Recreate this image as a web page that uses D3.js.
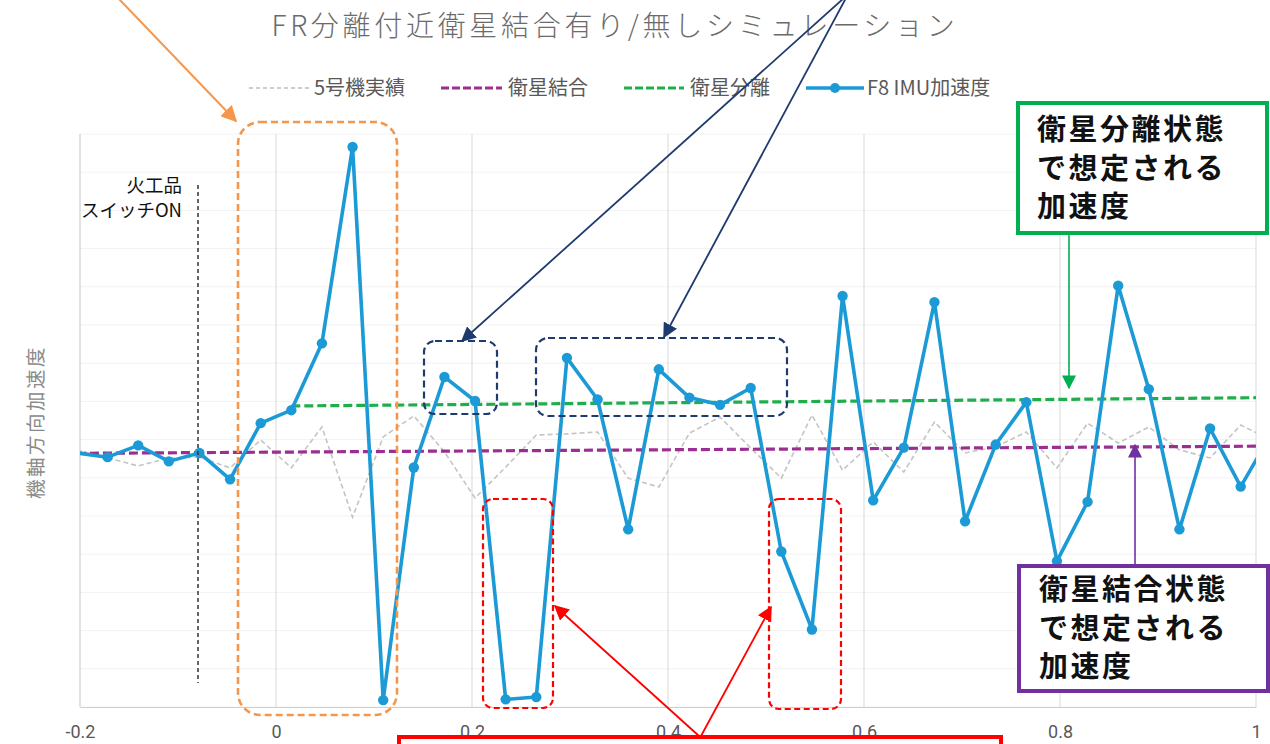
<!DOCTYPE html>
<html><head><meta charset="utf-8">
<script src="https://cdn.jsdelivr.net/npm/d3@7"></script>
<style>
body{margin:0;background:#fff;}
svg{display:block;font-family:"Noto Sans CJK JP","Noto Sans",sans-serif;}
</style></head>
<body><svg id="c" width="1270" height="744"></svg>
<script>
// ---- data ----
const times = [-0.203125,-0.171875,-0.140625,-0.109375,-0.078125,-0.046875,-0.015625,0.015625,0.046875,0.078125,
  0.109375,0.140625,0.171875,0.203125,0.234375,0.265625,0.296875,0.328125,0.359375,0.390625,
  0.421875,0.453125,0.484375,0.515625,0.546875,0.578125,0.609375,0.640625,0.671875,0.703125,
  0.734375,0.765625,0.796875,0.828125,0.859375,0.890625,0.921875,0.953125,0.984375,1.015625];
const imuAccel = [6.65,6.54,6.85,6.43,6.65,5.96,7.43,7.77,9.52,14.66,
  0.18,6.27,8.64,8.01,0.20,0.26,9.14,8.05,4.65,8.84,
  8.10,7.91,8.35,4.07,2.03,10.76,5.41,6.79,10.60,4.86,
  6.87,7.98,3.82,5.37,11.03,8.32,4.65,7.29,5.77,7.15];
const unit5Actual = [6.73,6.52,6.31,6.52,6.54,6.26,6.99,6.26,7.33,4.97,
  7.07,7.62,6.68,5.47,6.28,7.12,7.15,7.20,5.99,5.76,
  7.17,7.59,6.78,5.99,7.64,6.20,6.94,6.15,7.46,6.65,
  6.81,7.20,6.26,7.43,6.91,7.33,6.73,6.52,7.38,6.99];
const coupledTimes = [-0.203125, 1.015625];
const coupledVals = [6.64, 6.83];
const separatedTimes = [0.015625, 1.015625];
const separatedVals = [7.88, 8.10];
const xTicks = [-0.2, 0, 0.2, 0.4, 0.6, 0.8, 1];
const xTickLabels = ["-0.2","0","0.2","0.4","0.6","0.8","1"];
const yGrid = d3.range(0, 16);
const seriesNames = ["5号機実績","衛星結合","衛星分離","F8 IMU加速度"];
const titleText = "FR分離付近衛星結合有り/無しシミュレーション";
const yTitle = "機軸方向加速度";

// ---- layout ----
const svg = d3.select("#c");
const L = 80, R = 1256, T = 134, B = 707;
const x = d3.scaleLinear([-0.2, 1], [L, R]);
const y = d3.scaleLinear([0, 15], [B, T]);

const defs = svg.append("defs");
defs.append("clipPath").attr("id","plot").append("rect")
  .attr("x",L).attr("y",T-20).attr("width",R-L).attr("height",B-T+20);
function arrowMarker(id, color, size){
  defs.append("marker").attr("id",id).attr("viewBox","0 0 10 10")
    .attr("refX",9).attr("refY",5).attr("markerWidth",size).attr("markerHeight",size)
    .attr("markerUnits","userSpaceOnUse").attr("orient","auto")
    .append("path").attr("d","M0,0 L10,5 L0,10 z").attr("fill",color);
}
arrowMarker("aOrange","#f5964a",16);
arrowMarker("aNavy","#1f3b6e",15);
arrowMarker("aRed","#ff0000",15);
arrowMarker("aGreen","#00b050",14);
arrowMarker("aPurple","#7030a0",14);

// gridlines
svg.append("g").selectAll("line").data(yGrid).join("line")
  .attr("x1",L).attr("x2",R).attr("y1",d=>y(d)).attr("y2",d=>y(d))
  .attr("stroke","#f2f2f2").attr("stroke-width",1);
svg.append("g").selectAll("line").data(xTicks.slice(1)).join("line")
  .attr("x1",d=>x(d)).attr("x2",d=>x(d)).attr("y1",T).attr("y2",B)
  .attr("stroke","#d9d9d9").attr("stroke-width",1);
// axes lines
svg.append("line").attr("x1",L).attr("x2",L).attr("y1",T).attr("y2",B).attr("stroke","#cfcfcf").attr("stroke-width",1.2);
const xAxis = d3.axisBottom(x).tickValues(xTicks).tickFormat((d,i)=>xTickLabels[i]).tickSize(0).tickPadding(18);
const gx = svg.append("g").attr("transform",`translate(0,${B})`).call(xAxis);
gx.select(".domain").attr("stroke","#cfcfcf").attr("stroke-width",1.2);
gx.selectAll("text").attr("font-size",18).attr("fill","#595959").attr("font-family","Roboto,'Noto Sans',sans-serif");

// title
svg.append("text").attr("x",615).attr("y",36).attr("text-anchor","middle")
  .attr("font-size",28).attr("font-weight",300).attr("fill","#6b6b6b").attr("letter-spacing",3.7).text(titleText);
// y title
svg.append("text").attr("transform","translate(43,422) rotate(-90)").attr("text-anchor","middle")
  .attr("font-size",19.5).attr("fill","#8a8a8a").attr("letter-spacing",2.5).text(yTitle);

// series
const plot = svg.append("g").attr("clip-path","url(#plot)");
const line = d3.line().x(d=>x(d[0])).y(d=>y(d[1]));
plot.append("path").datum(times.map((t,i)=>[t,unit5Actual[i]])).attr("d",line)
  .attr("fill","none").attr("stroke","#c4c4c4").attr("stroke-width",1.6).attr("stroke-dasharray","5,3");
plot.append("path").datum(coupledTimes.map((t,i)=>[t,coupledVals[i]])).attr("d",line)
  .attr("fill","none").attr("stroke","#9c2d91").attr("stroke-width",3.2).attr("stroke-dasharray","9,4");
plot.append("path").datum(separatedTimes.map((t,i)=>[t,separatedVals[i]])).attr("d",line)
  .attr("fill","none").attr("stroke","#1fae4b").attr("stroke-width",3.2).attr("stroke-dasharray","9,4");
const imuData = times.map((t,i)=>[t,imuAccel[i]]);
plot.append("path").datum(imuData).attr("d",line)
  .attr("fill","none").attr("stroke","#1b9ad6").attr("stroke-width",3.6).attr("stroke-linejoin","round");
plot.append("g").selectAll("circle").data(imuData.filter(d=>d[0]>=-0.2 && d[0]<=1)).join("circle")
  .attr("cx",d=>x(d[0])).attr("cy",d=>y(d[1])).attr("r",5.2).attr("fill","#1b9ad6");

// legend
const leg = svg.append("g").attr("font-size",20).attr("fill","#595959");
const legItems = [
  {x1:249,x2:310,tx:314,stroke:"#bdbdbd",dash:"4,3",w:1.6},
  {x1:441,x2:502,tx:508,stroke:"#9c2d91",dash:"8,3",w:3.2},
  {x1:624,x2:684,tx:690,stroke:"#1fae4b",dash:"8,3",w:3.2},
  {x1:806,x2:864,tx:867,stroke:"#1b9ad6",dash:null,w:3.6,marker:true}
];
legItems.forEach((it,i)=>{
  leg.append("line").attr("x1",it.x1).attr("x2",it.x2).attr("y1",88).attr("y2",88)
    .attr("stroke",it.stroke).attr("stroke-width",it.w).attr("stroke-dasharray",it.dash);
  if(it.marker) leg.append("circle").attr("cx",(it.x1+it.x2)/2).attr("cy",88).attr("r",5).attr("fill",it.stroke);
  leg.append("text").attr("x",it.tx).attr("y",95).text(seriesNames[i]);
});

// ---- annotations ----
const ann = svg.append("g");
// ignition
ann.append("line").attr("x1",198).attr("x2",198).attr("y1",185).attr("y2",683)
  .attr("stroke","#333").attr("stroke-width",1.5).attr("stroke-dasharray","4,3");
ann.append("text").attr("x",182).attr("y",192).attr("text-anchor","end").attr("font-size",18.5).attr("fill","#111").text("火工品");
ann.append("text").attr("x",182).attr("y",217).attr("text-anchor","end").attr("font-size",18.5).attr("fill","#111").text("スイッチON");
// orange box + arrow
ann.append("rect").attr("x",238).attr("y",122).attr("width",159).attr("height",593).attr("rx",22)
  .attr("fill","none").attr("stroke","#f5964a").attr("stroke-width",2.6).attr("stroke-dasharray","7,4");
ann.append("line").attr("x1",118).attr("y1",-2).attr("x2",236).attr("y2",121)
  .attr("stroke","#f5964a").attr("stroke-width",2).attr("marker-end","url(#aOrange)");
// navy boxes + arrows
ann.append("rect").attr("x",424).attr("y",341).attr("width",73).attr("height",73).attr("rx",11)
  .attr("fill","none").attr("stroke","#1f3b6e").attr("stroke-width",2.2).attr("stroke-dasharray","7,4");
ann.append("rect").attr("x",536).attr("y",338).attr("width",251).attr("height",78).attr("rx",12)
  .attr("fill","none").attr("stroke","#1f3b6e").attr("stroke-width",2.2).attr("stroke-dasharray","7,4");
ann.append("line").attr("x1",844).attr("y1",-2).attr("x2",462).attr("y2",341)
  .attr("stroke","#1f3b6e").attr("stroke-width",1.8).attr("marker-end","url(#aNavy)");
ann.append("line").attr("x1",846).attr("y1",-2).attr("x2",664).attr("y2",337)
  .attr("stroke","#1f3b6e").attr("stroke-width",1.8).attr("marker-end","url(#aNavy)");
// red boxes + arrows
ann.append("rect").attr("x",483).attr("y",499).attr("width",70).attr("height",209).attr("rx",10)
  .attr("fill","none").attr("stroke","#ff0000").attr("stroke-width",2.2).attr("stroke-dasharray","6,3.5");
ann.append("rect").attr("x",769).attr("y",499).attr("width",72).attr("height",210).attr("rx",10)
  .attr("fill","none").attr("stroke","#ff0000").attr("stroke-width",2.2).attr("stroke-dasharray","6,3.5");
ann.append("line").attr("x1",699).attr("y1",736).attr("x2",555).attr("y2",606)
  .attr("stroke","#ff0000").attr("stroke-width",1.8).attr("marker-end","url(#aRed)");
ann.append("line").attr("x1",701).attr("y1",736).attr("x2",771).attr("y2",607)
  .attr("stroke","#ff0000").attr("stroke-width",1.8).attr("marker-end","url(#aRed)");
ann.append("rect").attr("x",399).attr("y",737).attr("width",602).attr("height",30)
  .attr("fill","#fff").attr("stroke","#ff0000").attr("stroke-width",4);
// green callout
ann.append("rect").attr("x",1018).attr("y",103).attr("width",249).attr("height",130)
  .attr("fill","#fff").attr("stroke","#00b050").attr("stroke-width",4);
["衛星分離状態","で想定される","加速度"].forEach((s,i)=>{
  ann.append("text").attr("x",1037).attr("y",140+i*38.5).attr("font-size",29).attr("font-weight",700)
    .attr("letter-spacing",2.5).attr("fill","#111").text(s);
});
ann.append("line").attr("x1",1069).attr("y1",235).attr("x2",1069).attr("y2",388)
  .attr("stroke","#00b050").attr("stroke-width",1.6).attr("marker-end","url(#aGreen)");
// purple callout
ann.append("rect").attr("x",1019).attr("y",566).attr("width",249).attr("height",125)
  .attr("fill","#fff").attr("stroke","#7030a0").attr("stroke-width",4);
["衛星結合状態","で想定される","加速度"].forEach((s,i)=>{
  ann.append("text").attr("x",1039).attr("y",600+i*38.5).attr("font-size",29).attr("font-weight",700)
    .attr("letter-spacing",2.5).attr("fill","#111").text(s);
});
ann.append("line").attr("x1",1135).attr("y1",564).attr("x2",1135).attr("y2",445)
  .attr("stroke","#7030a0").attr("stroke-width",1.6).attr("marker-end","url(#aPurple)");
</script></body></html>
